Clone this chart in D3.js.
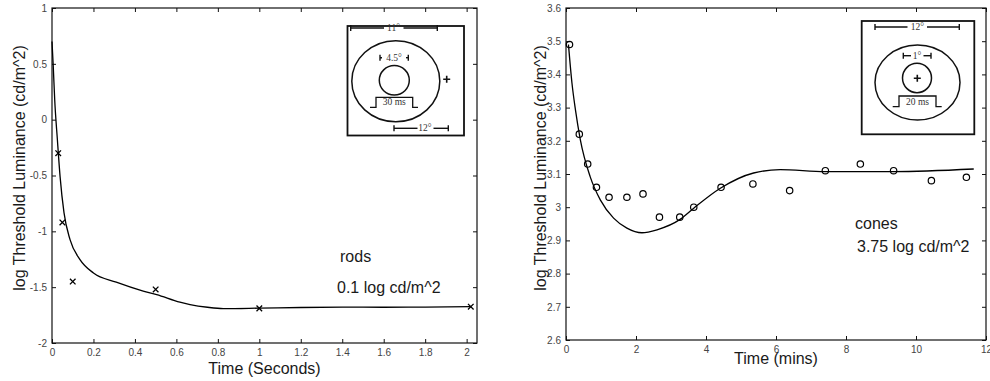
<!DOCTYPE html>
<html><head><meta charset="utf-8">
<script src="https://cdn.jsdelivr.net/npm/d3@7"></script>
<style>
html,body{margin:0;padding:0;background:#fff;}
svg{display:block;font-family:"Liberation Sans",Arial,sans-serif;}
</style></head>
<body>
<svg id="chart" width="990" height="381"></svg>
<script>
// ---------- DATA ----------
// Rods panel (left)
const rodPointT = [0.03, 0.05, 0.10, 0.50, 1.00, 2.02];
const rodPointV = [-0.30, -0.92, -1.45, -1.52, -1.69, -1.675];
const rodCurveT = [0, 0.006, 0.013, 0.026, 0.039, 0.058, 0.087, 0.135, 0.2, 0.31, 0.44, 0.505, 0.617, 0.666, 0.75, 0.826, 1.0, 1.2, 1.4, 1.6, 1.8, 2.02];
const rodCurveV = [0.70, 0.48, 0.18, -0.18, -0.51, -0.835, -1.074, -1.253, -1.373, -1.455, -1.535, -1.567, -1.635, -1.656, -1.68, -1.692, -1.688, -1.682, -1.679, -1.680, -1.678, -1.675];
const rodXTicks = [0, 0.2, 0.4, 0.6, 0.8, 1, 1.2, 1.4, 1.6, 1.8, 2];
const rodYTicks = [-2, -1.5, -1, -0.5, 0, 0.5, 1];

// Cones panel (right)
const conePointT = [0.1, 0.38, 0.62, 0.87, 1.23, 1.74, 2.2, 2.67, 3.25, 3.65, 4.43, 5.34, 6.39, 7.41, 8.41, 9.36, 10.44, 11.44];
const conePointV = [3.49, 3.22, 3.13, 3.06, 3.03, 3.03, 3.04, 2.97, 2.97, 3.0, 3.06, 3.07, 3.05, 3.11, 3.13, 3.11, 3.08, 3.09];
const coneCurveT = [0.07, 0.17, 0.27, 0.41, 0.69, 0.98, 1.36, 1.74, 2.17, 2.6, 3.27, 3.65, 4.41, 5.36, 6.12, 7.41, 9.36, 11.65];
const coneCurveV = [3.49, 3.374, 3.293, 3.203, 3.092, 3.022, 2.967, 2.937, 2.923, 2.932, 2.964, 2.997, 3.057, 3.103, 3.113, 3.107, 3.107, 3.115];
const coneXTicks = [0, 2, 4, 6, 8, 10, 12];
const coneYTicks = [2.6, 2.7, 2.8, 2.9, 3.0, 3.1, 3.2, 3.3, 3.4, 3.5, 3.6];

const yTitle = "log Threshold Luminance (cd/m^2)";

// ---------- DRAW ----------
const svg = d3.select("#chart");
const fmt = d => String(+(+d).toFixed(2));

function panel(cfg) {
  const x = d3.scaleLinear().domain(cfg.xDomain).range([cfg.left, cfg.right]);
  const y = d3.scaleLinear().domain(cfg.yDomain).range([cfg.bottom, cfg.top]);
  const g = svg.append("g");

  const styleAxis = sel => {
    sel.select(".domain").remove();
    sel.selectAll(".tick line").attr("stroke", "#111").attr("stroke-width", 1);
    sel.selectAll(".tick text").attr("fill", "#444").style("font-size", "10px")
      .style("font-family", '"Liberation Sans",Arial,sans-serif');
  };

  g.append("g").attr("transform", `translate(0,${cfg.bottom})`)
    .call(d3.axisBottom(x).tickValues(cfg.xTicks).tickFormat(fmt).tickSizeInner(-4).tickSizeOuter(0).tickPadding(6))
    .call(styleAxis);
  g.append("g").attr("transform", `translate(0,${cfg.top})`)
    .call(d3.axisTop(x).tickValues(cfg.xTicks).tickFormat("").tickSizeInner(-4).tickSizeOuter(0))
    .call(styleAxis);
  g.append("g").attr("transform", `translate(${cfg.left},0)`)
    .call(d3.axisLeft(y).tickValues(cfg.yTicks).tickFormat(fmt).tickSizeInner(-4).tickSizeOuter(0).tickPadding(5))
    .call(styleAxis);
  g.append("g").attr("transform", `translate(${cfg.right},0)`)
    .call(d3.axisRight(y).tickValues(cfg.yTicks).tickFormat("").tickSizeInner(-4).tickSizeOuter(0))
    .call(styleAxis);

  g.append("rect").attr("x", cfg.left).attr("y", cfg.top)
    .attr("width", cfg.right - cfg.left).attr("height", cfg.bottom - cfg.top)
    .attr("fill", "none").attr("stroke", "#111").attr("stroke-width", 1.2);

  // titles
  g.append("text").attr("x", (cfg.left + cfg.right) / 2).attr("y", cfg.xTitleY)
    .attr("text-anchor", "middle").attr("fill", "#1a1a1a").style("font-size", "16px").text(cfg.xTitle);
  g.append("text").attr("transform", `translate(${cfg.yTitleX},${cfg.yTitleCY}) rotate(-90)`)
    .attr("text-anchor", "middle").attr("dominant-baseline", "central")
    .attr("fill", "#1a1a1a").style("font-size", "16px").text(yTitle);

  // curve
  const curve = cfg.curveT.map((t, i) => [t, cfg.curveV[i]]);
  g.append("path").datum(curve)
    .attr("d", d3.line().x(d => x(d[0])).y(d => y(d[1])).curve(d3.curveMonotoneX))
    .attr("fill", "none").attr("stroke", "#000").attr("stroke-width", 1.3);

  const pts = cfg.pointT.map((t, i) => [t, cfg.pointV[i]]);
  if (cfg.marker === "x") {
    const s = 2.8;
    const mk = g.selectAll(".mk").data(pts).enter().append("g")
      .attr("transform", d => `translate(${x(d[0])},${y(d[1])})`);
    mk.append("path").attr("d", `M${-s},${-s}L${s},${s}M${-s},${s}L${s},${-s}`)
      .attr("stroke", "#000").attr("stroke-width", 1.3);
  } else {
    g.selectAll(".mk").data(pts).enter().append("circle")
      .attr("cx", d => x(d[0])).attr("cy", d => y(d[1])).attr("r", 3.2)
      .attr("fill", "none").attr("stroke", "#000").attr("stroke-width", 1.2);
  }

  cfg.notes.forEach(n => {
    g.append("text").attr("x", n.x).attr("y", n.y).attr("fill", "#1a1a1a")
      .style("font-size", "16px").text(n.text);
  });
  return g;
}

panel({
  left: 52, right: 477, top: 8, bottom: 343,
  xDomain: [0, 2.05], yDomain: [-2, 1],
  xTicks: rodXTicks, yTicks: rodYTicks,
  xTitle: "Time (Seconds)", xTitleY: 374,
  yTitleX: 19, yTitleCY: 168,
  curveT: rodCurveT, curveV: rodCurveV,
  pointT: rodPointT, pointV: rodPointV, marker: "x",
  notes: [{x: 340, y: 262, text: "rods"}, {x: 337, y: 293, text: "0.1 log cd/m^2"}]
});

panel({
  left: 566, right: 986, top: 8, bottom: 340,
  xDomain: [0, 12], yDomain: [2.6, 3.6],
  xTicks: coneXTicks, yTicks: coneYTicks,
  xTitle: "Time (mins)", xTitleY: 364,
  yTitleX: 540, yTitleCY: 168,
  curveT: coneCurveT, curveV: coneCurveV,
  pointT: conePointT, pointV: conePointV, marker: "o",
  notes: [{x: 855, y: 229, text: "cones"}, {x: 857, y: 252, text: "3.75 log cd/m^2"}]
});

// ---------- INSET DIAGRAMS ----------
const serif = '"Liberation Serif","DejaVu Serif",serif';
function bracket(g, x1, x2, y, label, tx, gap0, gap1) {
  const line = (a, b, c, d) => g.append("line").attr("x1", a).attr("y1", b).attr("x2", c).attr("y2", d)
    .attr("stroke", "#111").attr("stroke-width", 1.4);
  line(x1, y - 3, x1, y + 3);
  line(x2, y - 3, x2, y + 3);
  line(x1, y, gap0, y);
  line(gap1, y, x2, y);
  g.append("text").attr("x", tx).attr("y", y).attr("text-anchor", "middle").attr("dominant-baseline", "central")
    .attr("fill", "#333").style("font-family", serif).style("font-size", "9.5px").text(label);
}
function plus(g, cx, cy, s) {
  g.append("path").attr("d", `M${cx - s},${cy}H${cx + s}M${cx},${cy - s}V${cy + s}`)
    .attr("stroke", "#111").attr("stroke-width", 1.6);
}
function pulse(g, x0, x1, x2, x3, yb, yt, label) {
  g.append("path").attr("d", `M${x0},${yb}H${x1}V${yt}H${x2}V${yb}H${x3}`)
    .attr("fill", "none").attr("stroke", "#111").attr("stroke-width", 1.3);
  g.append("text").attr("x", (x1 + x2) / 2).attr("y", yb - 2).attr("text-anchor", "middle")
    .attr("fill", "#333").style("font-family", serif).style("font-size", "9.5px").text(label);
}

// left inset
{
  const g = svg.append("g");
  g.append("rect").attr("x", 347.5).attr("y", 26).attr("width", 116.5).attr("height", 109.5)
    .attr("fill", "#fff").attr("stroke", "#111").attr("stroke-width", 1.8);
  bracket(g, 350.7, 437.3, 28, "11°", 393.5, 384, 403.5);
  bracket(g, 380, 408.3, 57.7, "4.5°", 394, 382, 406);
  bracket(g, 394, 448.3, 128.3, "12°", 425, 417.5, 433.5);
  g.append("ellipse").attr("cx", 395.8).attr("cy", 81.2).attr("rx", 44).attr("ry", 40.5)
    .attr("fill", "none").attr("stroke", "#111").attr("stroke-width", 1.5);
  g.append("ellipse").attr("cx", 394.3).attr("cy", 80.3).attr("rx", 15).attr("ry", 14.7)
    .attr("fill", "none").attr("stroke", "#111").attr("stroke-width", 1.5);
  plus(g, 446.7, 79.3, 3.5);
  pulse(g, 370, 376, 412.7, 418, 107.3, 97.3, "30 ms");
}
// right inset
{
  const g = svg.append("g");
  g.append("rect").attr("x", 861.7).attr("y", 21).attr("width", 112.6).attr("height", 113.3)
    .attr("fill", "#fff").attr("stroke", "#111").attr("stroke-width", 1.8);
  bracket(g, 875, 959.3, 27, "12°", 917.3, 907.5, 927);
  bracket(g, 903.3, 931, 55.7, "1°", 917, 911, 923.5);
  g.append("ellipse").attr("cx", 917.5).attr("cy", 82.5).attr("rx", 42.5).attr("ry", 37.5)
    .attr("fill", "none").attr("stroke", "#111").attr("stroke-width", 1.5);
  g.append("ellipse").attr("cx", 917).attr("cy", 78).attr("rx", 14.5).attr("ry", 14.7)
    .attr("fill", "none").attr("stroke", "#111").attr("stroke-width", 1.5);
  plus(g, 917.3, 78.3, 3.5);
  pulse(g, 892.7, 899, 936, 941.7, 106.7, 96, "20 ms");
}
</script>
</body></html>
